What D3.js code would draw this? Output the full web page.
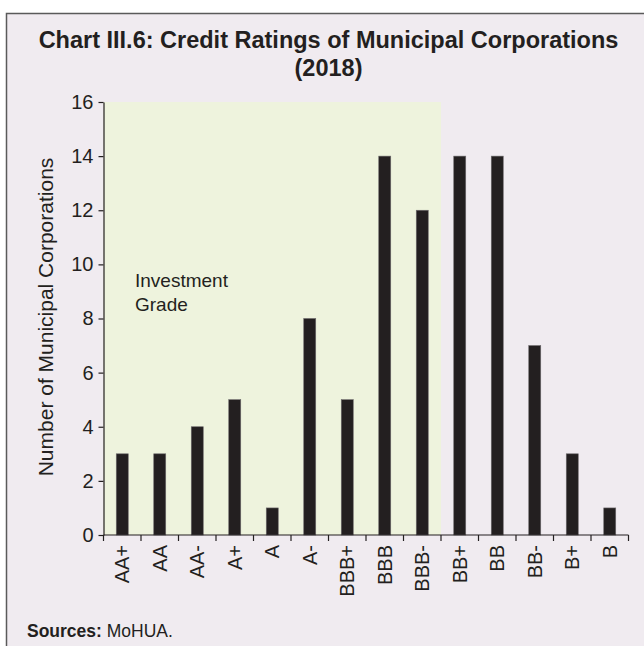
<!DOCTYPE html>
<html>
<head>
<meta charset="utf-8">
<script src="https://cdn.jsdelivr.net/npm/d3@7"></script>
<style>
  body { margin: 0; padding: 0; background: #ffffff; }
  svg { display: block; font-family: 'Liberation Sans', Arial, sans-serif; }
</style>
</head>
<body>
<script>
// chart data
var ratings = ['AA+', 'AA', 'AA-', 'A+', 'A', 'A-', 'BBB+', 'BBB', 'BBB-', 'BB+', 'BB', 'BB-', 'B+', 'B']
var counts = [3, 3, 4, 5, 1, 8, 5, 14, 12, 14, 14, 7, 3, 1]
var investmentGrade = ['AA+', 'AA', 'AA-', 'A+', 'A', 'A-', 'BBB+', 'BBB', 'BBB-']
var yTicks = [0, 2, 4, 6, 8, 10, 12, 14, 16]

var width = 644
var height = 646

var plotLeft = 103.5
var plotRight = 628.5
var plotTop = 102
var plotBottom = 535

var ink = '#231f20'

var svg = d3.select('body')
            .append('svg')
                .attr('width', width)
                .attr('height', height)

// panel background + frame
svg.append('rect')
    .attr('x', 6.5)
    .attr('y', 13.5)
    .attr('width', width)
    .attr('height', height)
    .attr('fill', '#f0ebf0')
    .attr('stroke', '#5a5a5a')
    .attr('stroke-width', 1.5)

svg.append('text')
    .attr('x', 328.5)
    .attr('y', 48)
    .attr('text-anchor', 'middle')
    .style('font-size', '23.5px')
    .style('font-weight', 'bold')
    .attr('fill', ink)
    .text('Chart III.6: Credit Ratings of Municipal Corporations')

svg.append('text')
    .attr('x', 328.5)
    .attr('y', 76)
    .attr('text-anchor', 'middle')
    .style('font-size', '23.5px')
    .style('font-weight', 'bold')
    .attr('fill', ink)
    .text('(2018)')

var xscale = d3.scaleBand().domain(ratings).range([plotLeft, plotRight])
var yscale = d3.scaleLinear().domain([0, 16]).range([plotBottom, plotTop])

// shaded investment grade area
var lastIG = investmentGrade[investmentGrade.length - 1]
svg.append('rect')
    .attr('x', xscale(investmentGrade[0]))
    .attr('y', yscale(16))
    .attr('width', xscale(lastIG) + xscale.bandwidth() - xscale(investmentGrade[0]))
    .attr('height', yscale(0) - yscale(16))
    .attr('fill', '#eef3dd')

svg.append('text')
    .attr('x', 135)
    .attr('y', 287)
    .style('font-size', '19px')
    .attr('fill', ink)
    .text('Investment')

svg.append('text')
    .attr('x', 135)
    .attr('y', 311)
    .style('font-size', '19px')
    .attr('fill', ink)
    .text('Grade')

var barWidth = 12

svg.selectAll('.bar')
    .data(ratings)
    .enter()
        .append('rect')
            .classed('bar', true)
            .attr('x', d => xscale(d) + xscale.bandwidth() / 2 - barWidth / 2)
            .attr('y', (d, i) => yscale(counts[i]))
            .attr('width', barWidth)
            .attr('height', (d, i) => yscale(0) - yscale(counts[i]))
            .attr('fill', ink)
            .attr('stroke', '#6d6a6c')
            .attr('stroke-width', 0.6)

// axes
var y_axis = d3.axisLeft(yscale).tickValues(yTicks).tickSize(5).tickSizeOuter(0)
var yg = svg.append('g')
    .attr('transform', 'translate(' + plotLeft + ',0)')
    .call(y_axis)
yg.select('.domain').attr('stroke', ink).attr('stroke-width', 1.2)
yg.selectAll('.tick line').attr('stroke', ink).attr('stroke-width', 1.2)
yg.selectAll('.tick text')
    .attr('x', -10)
    .style('font-size', '20px')
    .style('font-family', "'Liberation Sans', Arial, sans-serif")
    .attr('fill', ink)

// x axis: ticks at the band edges
var edges = ratings.map(d => xscale(d)).concat([plotRight])
var xg = svg.append('g')
xg.append('line')
    .attr('x1', plotLeft).attr('x2', plotRight)
    .attr('y1', plotBottom).attr('y2', plotBottom)
    .attr('stroke', ink).attr('stroke-width', 1.2)
xg.selectAll('.xtick')
    .data(edges)
    .enter()
        .append('line')
            .attr('x1', d => d).attr('x2', d => d)
            .attr('y1', plotBottom).attr('y2', plotBottom + 6)
            .attr('stroke', ink).attr('stroke-width', 1.2)

xg.selectAll('.xlabel')
    .data(ratings)
    .enter()
        .append('text')
            .attr('transform', d => 'translate(' + (xscale(d) + xscale.bandwidth() / 2 + 7) + ',' + (plotBottom + 10) + ') rotate(-90)')
            .attr('text-anchor', 'end')
            .style('font-size', '20px')
            .attr('fill', ink)
            .text(d => d)

svg.append('text')
    .attr('transform', 'translate(53,317) rotate(-90)')
    .attr('text-anchor', 'middle')
    .style('font-size', '21px')
    .attr('fill', ink)
    .text('Number of Municipal Corporations')

var src = svg.append('text')
    .attr('x', 27)
    .attr('y', 637)
    .style('font-size', '17.5px')
    .attr('fill', ink)
src.append('tspan').style('font-weight', 'bold').text('Sources:')
src.append('tspan').text(' MoHUA.')
</script>
</body>
</html>
